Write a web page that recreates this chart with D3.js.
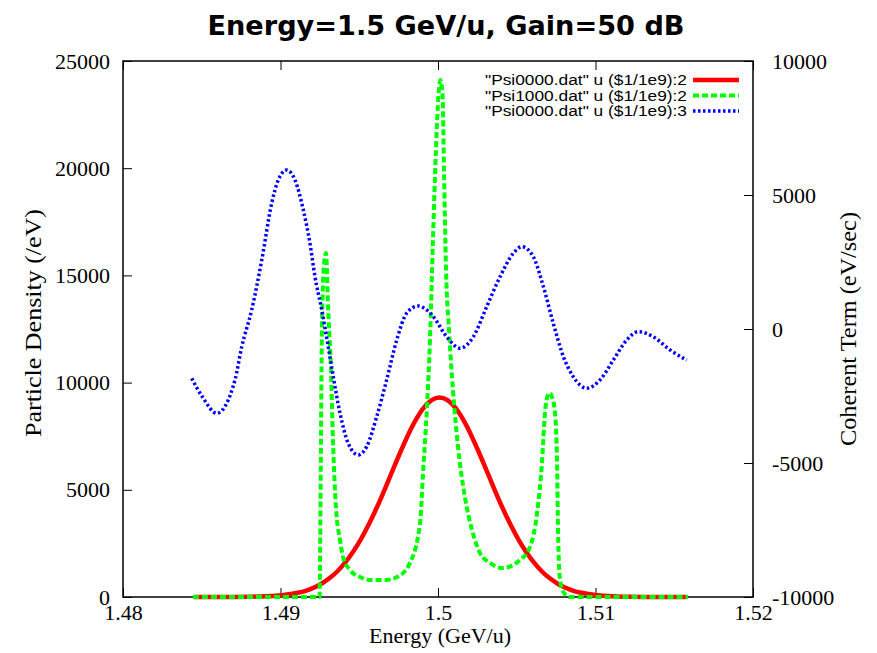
<!DOCTYPE html>
<html>
<head>
<meta charset="utf-8">
<script src="https://cdn.jsdelivr.net/npm/d3@7"></script>
<style>
  body { margin: 0; background: #fff; }
  .tick text { font-family: "Liberation Serif", "Times New Roman", serif; font-size: 22px; fill: #000; }
  .tick line { stroke: #000; stroke-width: 1; }
</style>
</head>
<body>
<svg id="chart" width="877" height="653"></svg>
<script>
// Psi0000.dat column 2 (particle density, /eV)
const redEnergy = [1.4845, 1.4871, 1.4881, 1.4891, 1.4901, 1.4911, 1.4916, 1.4921, 1.4926, 1.4931,
  1.4936, 1.4941, 1.4946, 1.4951, 1.4956, 1.4961, 1.4966, 1.4971, 1.4976, 1.4981,
  1.4986, 1.4991, 1.4996, 1.5001, 1.5006, 1.5011, 1.5016, 1.5021, 1.5026, 1.5031,
  1.5036, 1.5041, 1.5046, 1.5051, 1.5056, 1.5061, 1.5066, 1.5071, 1.5076, 1.5081,
  1.5086, 1.5091, 1.5101, 1.5111, 1.5121, 1.5131, 1.5158];
const redDensity = [0, 4, 12, 35, 85, 195, 290, 430, 620, 870,
  1190, 1600, 2100, 2690, 3380, 4150, 4990, 5870, 6740, 7560,
  8270, 8830, 9180, 9300, 9180, 8830, 8270, 7560, 6740, 5870,
  4990, 4150, 3380, 2690, 2100, 1600, 1190, 870, 620, 430,
  290, 195, 85, 35, 12, 4, 0];

// Psi1000.dat column 2 (particle density, /eV)
const greenEnergy = [1.48444, 1.49248, 1.49254, 1.49263, 1.49276, 1.49289, 1.49302, 1.49321, 1.49333, 1.49352,
  1.49378, 1.49397, 1.49441, 1.49505, 1.49568, 1.49663, 1.49740, 1.49822, 1.49886, 1.49905,
  1.49930, 1.49949, 1.49968, 1.49987, 1.50003, 1.50016, 1.50029, 1.50038, 1.50051, 1.50070,
  1.50095, 1.50127, 1.50171, 1.50216, 1.50267, 1.50330, 1.50406, 1.50521, 1.50584, 1.50629,
  1.50660, 1.50679, 1.50698, 1.50711, 1.50724, 1.50743, 1.50756, 1.50762, 1.50775, 1.50800,
  1.50838, 1.51587];
const greenDensity = [0, 0, 4520, 12450, 15480, 16040, 13530, 10450, 7320, 4200,
  2660, 1870, 1260, 930, 790, 790, 930, 1590, 3450, 5780,
  8860, 11990, 16650, 20850, 23410, 24110, 23410, 19920, 15250, 12450,
  9650, 7000, 4660, 3120, 2050, 1590, 1350, 1730, 2330, 3920,
  6250, 8580, 9420, 9515, 9330, 8580, 6250, 3120, 790, 190,
  0, 0];

// Psi0000.dat column 3 (coherent term, eV/sec)
const blueEnergy = [1.48436, 1.48508, 1.48595, 1.48711, 1.48754, 1.48817, 1.48881, 1.48944, 1.48986, 1.49039,
  1.49092, 1.49145, 1.49187, 1.49219, 1.49262, 1.49303, 1.49335, 1.49378, 1.49430, 1.49494,
  1.49547, 1.49611, 1.49674, 1.49738, 1.49801, 1.49873, 1.49928, 1.49970, 1.50055, 1.50140,
  1.50224, 1.50309, 1.50394, 1.50478, 1.50532, 1.50605, 1.50669, 1.50732, 1.50796, 1.50859,
  1.50944, 1.51029, 1.51113, 1.51198, 1.51272, 1.51367, 1.51473, 1.51579];
const blueCoherent = [-1840, -2570, -3145, -1900, -660, 710, 2570, 4690, 5560, 5930,
  5560, 4440, 3200, 1950, 710, -660, -1780, -3145, -4265, -4700,
  -4390, -3270, -1900, -410, 590, 860, 710, 460, -290, -720,
  -290, 830, 1950, 2820, 3070, 2700, 1580, 210, -1030, -1780,
  -2210, -1900, -1160, -410, -100, -290, -780, -1160];

const xTicks = [1.48, 1.49, 1.5, 1.51, 1.52];
const yTicks = [0, 5000, 10000, 15000, 20000, 25000];
const y2Ticks = [-10000, -5000, 0, 5000, 10000];
const legendLabels = ['"Psi0000.dat" u ($1/1e9):2', '"Psi1000.dat" u ($1/1e9):2', '"Psi0000.dat" u ($1/1e9):3'];

const svg = d3.select('#chart');
const plotL = 123, plotR = 753, plotT = 61, plotB = 597;

const x = d3.scaleLinear().domain([1.48, 1.52]).range([plotL, plotR]);
const y = d3.scaleLinear().domain([0, 25000]).range([plotB, plotT]);
const y2 = d3.scaleLinear().domain([-10000, 10000]).range([plotB, plotT]);

// Title
svg.append('text')
  .attr('x', 446).attr('y', 35)
  .attr('text-anchor', 'middle')
  .attr('textLength', 477).attr('lengthAdjust', 'spacingAndGlyphs')
  .style('font-family', '"DejaVu Sans", sans-serif')
  .style('font-weight', 'bold')
  .style('font-size', '27px')
  .text('Energy=1.5 GeV/u, Gain=50 dB');

// Axes (ticks point inward like gnuplot)
const fmt = d => String(d);
svg.append('g').attr('transform', `translate(0,${plotB})`)
  .call(d3.axisBottom(x).tickValues(xTicks).tickFormat(fmt).tickSizeInner(-9).tickSizeOuter(0).tickPadding(7))
  .call(g => g.select('.domain').remove());
svg.append('g').attr('transform', `translate(0,${plotT})`)
  .call(d3.axisTop(x).tickValues(xTicks).tickFormat('').tickSizeInner(-9).tickSizeOuter(0))
  .call(g => g.select('.domain').remove());
svg.append('g').attr('transform', `translate(${plotL},0)`)
  .call(d3.axisLeft(y).tickValues(yTicks).tickFormat(fmt).tickSizeInner(-9).tickSizeOuter(0).tickPadding(13))
  .call(g => g.select('.domain').remove());
svg.append('g').attr('transform', `translate(${plotR},0)`)
  .call(d3.axisRight(y2).tickValues(y2Ticks).tickFormat(fmt).tickSizeInner(-9).tickSizeOuter(0).tickPadding(19))
  .call(g => g.select('.domain').remove());

// Frame
svg.append('rect')
  .attr('x', plotL).attr('y', plotT)
  .attr('width', plotR - plotL).attr('height', plotB - plotT)
  .attr('fill', 'none').attr('stroke', '#000').attr('stroke-width', 1.5);

// Axis titles
const serif = '"Liberation Serif", "Times New Roman", serif';
svg.append('text')
  .attr('x', 440).attr('y', 643)
  .attr('text-anchor', 'middle')
  .style('font-family', serif).style('font-size', '22px')
  .text('Energy (GeV/u)');
svg.append('text')
  .attr('transform', 'translate(41,323) rotate(-90)')
  .attr('text-anchor', 'middle')
  .attr('textLength', 228).attr('lengthAdjust', 'spacingAndGlyphs')
  .style('font-family', serif).style('font-size', '23px')
  .text('Particle Density (/eV)');
svg.append('text')
  .attr('transform', 'translate(856,329) rotate(-90)')
  .attr('text-anchor', 'middle')
  .attr('textLength', 234).attr('lengthAdjust', 'spacingAndGlyphs')
  .style('font-family', serif).style('font-size', '23px')
  .text('Coherent Term (eV/sec)');

// Curves
const series = [
  { ex: redEnergy, vals: redDensity, scale: y, color: '#ff0000', width: 4.5, dash: null },
  { ex: greenEnergy, vals: greenDensity, scale: y, color: '#00ff00', width: 4, dash: '6,3' },
  { ex: blueEnergy, vals: blueCoherent, scale: y2, color: '#0000ff', width: 3.5, dash: '2.5,2.5' }
];

series.forEach(s => {
  const line = d3.line()
    .x((d, i) => x(s.ex[i]))
    .y(d => s.scale(d))
    .curve(d3.curveMonotoneX);
  svg.append('path')
    .attr('d', line(s.vals))
    .attr('fill', 'none')
    .attr('stroke', s.color)
    .attr('stroke-width', s.width)
    .attr('stroke-dasharray', s.dash);
});

// Legend
const legend = svg.append('g');
series.forEach((s, i) => {
  const ly = 80 + i * 15.5;
  legend.append('text')
    .attr('x', 687).attr('y', ly + 5)
    .attr('text-anchor', 'end')
    .attr('textLength', 202).attr('lengthAdjust', 'spacingAndGlyphs')
    .style('font-family', '"Liberation Sans", Arial, sans-serif')
    .style('font-size', '14px')
    .text(legendLabels[i]);
  legend.append('line')
    .attr('x1', 693).attr('x2', 739)
    .attr('y1', ly).attr('y2', ly)
    .attr('stroke', s.color)
    .attr('stroke-width', s.width)
    .attr('stroke-dasharray', s.dash);
});
</script>
</body>
</html>
